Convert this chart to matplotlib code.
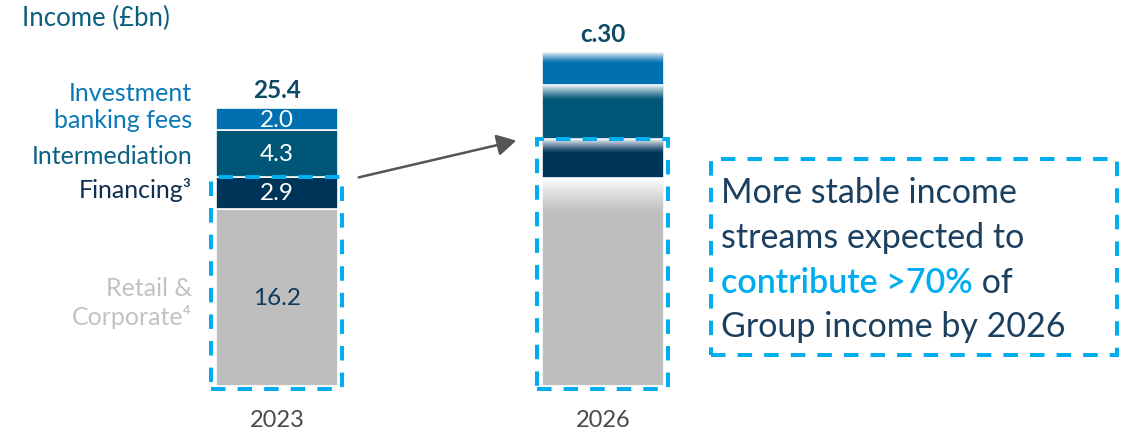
import matplotlib
matplotlib.use("Agg")
import matplotlib.pyplot as plt
from matplotlib.patches import Rectangle, FancyArrowPatch
import numpy as np

plt.rcParams['font.family'] = ['Lato', 'DejaVu Sans']

# ---- data ----
years = ["2023", "2026"]
segments = ["Retail & Corporate", "Financing", "Intermediation", "Investment banking fees"]
values_2023 = [16.2, 2.9, 4.3, 2.0]
values_2026 = [19.0, 3.6, 4.9, 3.0]   # (no labels shown)
total_labels = ["25.4", "c.30"]
seg_labels = ["Retail &\nCorporate\u2074", "Financing\u00b3", "Intermediation", "Investment\nbanking fees"]

seg_colors = ["#BEBEBE", "#00355A", "#005677", "#0070B0"]
label_colors = ["#C2C2C2", "#0E2F4F", "#0B6284", "#0A78B8"]
value_text_colors = ["#0E3A5C", "white", "white", "white"]
dash_col = "#00AEEF"
navy = "#0E4A66"

W, H = 1122, 435
fig = plt.figure(figsize=(W / 100, H / 100), dpi=100)
ax = fig.add_axes([0, 0, 1, 1])
ax.axis("off")

px_per_x = 326.0
px_per_y = 10.94
x0_px, y0_px = 277.0, 387.0
xlim = (-x0_px / px_per_x, (W - x0_px) / px_per_x)
ylim = (-(H - y0_px) / px_per_y, y0_px / px_per_y)

bw = 0.374
xs = np.arange(len(years))
data = [values_2023, values_2026]

for i, vals in enumerate(data):
    bottoms = np.concatenate([[0], np.cumsum(vals)[:-1]])
    ax.bar([xs[i]] * len(vals), vals, bottom=bottoms, width=bw, color=seg_colors,
           edgecolor="white", linewidth=1.2, zorder=2)
    total = sum(vals)
    ax.text(xs[i], total + 1.7, total_labels[i], ha="center", va="center",
            fontsize=17.5, fontweight="bold", color=navy)
    ax.text(xs[i], -3.1, years[i], ha="center", va="center", fontsize=17, color="#4A4A4A")
    if i == 0:
        for v, b, c in zip(vals, bottoms, value_text_colors):
            ax.text(xs[i], b + v / 2, f"{v:.1f}", ha="center", va="center",
                    fontsize=17.5, color=c, zorder=4)
    else:
        # fade-in gradients at the top of each projected segment
        fades = [3.3, 1.3, 1.4, 1.0]
        tops = [(1.0, 1.0, 1.0), (0.93, 0.95, 0.97), (0.93, 0.95, 0.97), (0.93, 0.95, 0.97)]
        for v, b, f, tc in zip(vals, bottoms, fades, tops):
            n = 64
            grad = np.zeros((n, 2, 4))
            grad[..., 0] = tc[0]
            grad[..., 1] = tc[1]
            grad[..., 2] = tc[2]
            alpha = np.linspace(0, 1, n) ** 1.2
            grad[..., 3] = alpha[:, None]
            top = b + v
            ax.imshow(grad, extent=(xs[i] - bw / 2 + 0.003, xs[i] + bw / 2 - 0.003, top - f, top - 0.08),
                      origin="lower", aspect="auto", zorder=3, interpolation="bilinear")
    # dashed box round stable streams (retail + financing)
    stable_top = vals[0] + vals[1]
    box = Rectangle((xs[i] - 0.203, -0.3), 0.403, stable_top + 0.3, fill=False,
                    edgecolor=dash_col, linewidth=2.9, linestyle=(0, (3.6, 3.0)), zorder=5)
    ax.add_patch(box)

# segment labels on the left
label_x = (192 - x0_px) / px_per_x
label_y = [(387 - 303) / px_per_y, (387 - 190) / px_per_y, (387 - 156) / px_per_y, (387 - 107) / px_per_y]
for t, y, c in zip(seg_labels, label_y, label_colors):
    ax.text(label_x, y, t, ha="right", va="center", fontsize=18, color=c, linespacing=1.25)

# title
fig.text(22 / W, 1 - 18 / H, "Income (£bn)", ha="left", va="center", fontsize=18.5, color="#0B5E80")

# arrow
arr = FancyArrowPatch(((356 - x0_px) / px_per_x, (387 - 179) / px_per_y),
                      ((519 - x0_px) / px_per_x, (387 - 141) / px_per_y),
                      arrowstyle="-|>,head_length=9,head_width=5", color="#555555",
                      linewidth=1.8, mutation_scale=1.3, zorder=6)
ax.add_patch(arr)

# right text box
bx0 = (711 - x0_px) / px_per_x
bx1 = (1117 - x0_px) / px_per_x
by0 = (387 - 356) / px_per_y
by1 = (387 - 160) / px_per_y
ax.add_patch(Rectangle((bx0, by0), bx1 - bx0, by1 - by0, fill=False, edgecolor=dash_col,
                       linewidth=2.9, linestyle=(0, (3.6, 3.0)), zorder=5))

tx = (721 - x0_px) / px_per_x
text_col = "#1B3F5E"
fs_box = 24.5
line_ys = [193, 238, 283, 327]
ax.text(tx, (387 - line_ys[0]) / px_per_y, "More stable income", ha="left", va="center",
        fontsize=fs_box, color=text_col)
ax.text(tx, (387 - line_ys[1]) / px_per_y, "streams expected to", ha="left", va="center",
        fontsize=fs_box, color=text_col)
t1 = ax.text(tx, (387 - line_ys[2]) / px_per_y, "contribute >70%", ha="left", va="center",
             fontsize=fs_box, color=dash_col, fontweight="semibold")
ax.text(tx, (387 - line_ys[3]) / px_per_y, "Group income by 2026", ha="left", va="center",
        fontsize=fs_box, color=text_col)

ax.set_xlim(*xlim)
ax.set_ylim(*ylim)

fig.canvas.draw()
bb = t1.get_window_extent()
x_after = ax.transData.inverted().transform((bb.x1, 0))[0]
ax.text(x_after, (387 - line_ys[2]) / px_per_y, " of", ha="left", va="center",
        fontsize=fs_box, color=text_col)

fig.savefig("out.png", dpi=100)
